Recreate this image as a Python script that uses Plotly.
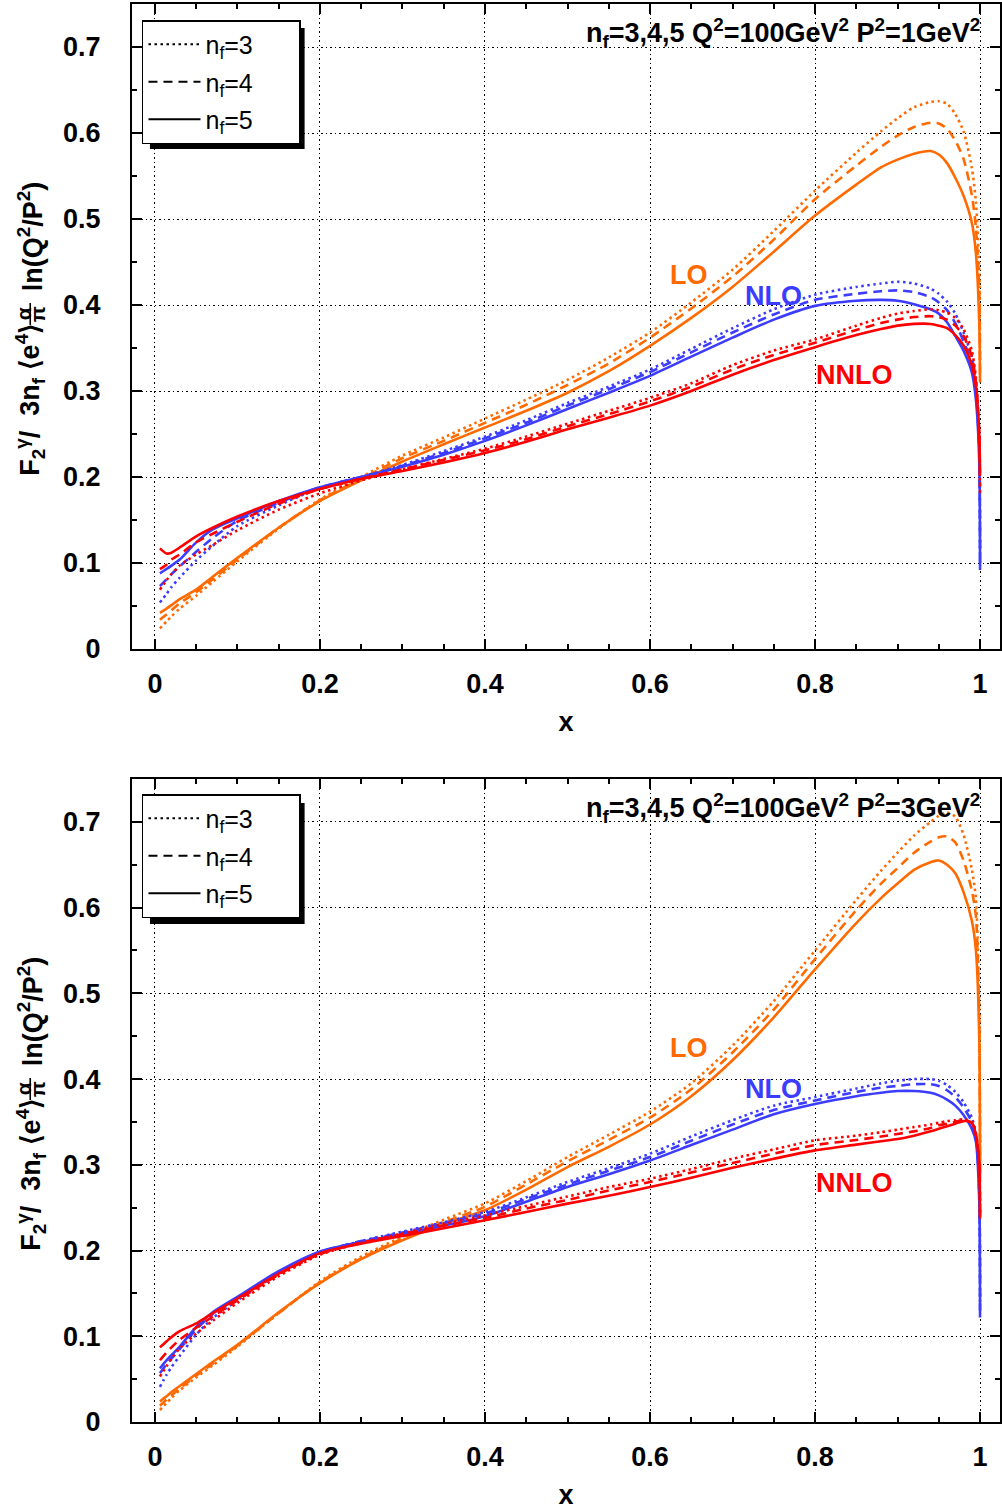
import plotly.graph_objects as go

# ---------------- data ----------------
X = [0.006, 0.014, 0.02, 0.03, 0.05, 0.07, 0.1, 0.15, 0.2, 0.25, 0.3, 0.35, 0.4,
     0.45, 0.5, 0.55, 0.6, 0.65, 0.7, 0.75, 0.8, 0.85, 0.88, 0.9, 0.92, 0.94,
     0.95, 0.96, 0.97, 0.98, 0.99, 0.995, 0.999, 1.0]

# P^2 = 1 GeV^2
p1_lo_nf3 = [.024, .032, .038, .047, .062, .078, .102, .140, .174, .200, .225, .246, .268, .290, .313, .339, .368,
             .403, .441, .486, .533, .577, .602, .617, .630, .636, .637, .634, .622, .602, .560, .520, .440, .330]
p1_lo_nf4 = [.034, .040, .045, .053, .066, .081, .104, .141, .173, .198, .222, .242, .263, .284, .307, .332, .362,
             .396, .433, .476, .523, .562, .584, .597, .607, .612, .611, .605, .591, .570, .528, .490, .420, .320]
p1_lo_nf5 = [.042, .047, .051, .058, .069, .084, .106, .141, .172, .196, .218, .238, .2575, .277, .298, .323, .3525,
             .385, .421, .462, .504, .540, .560, .569, .576, .579, .575, .565, .548, .527, .496, .460, .380, .310]
p1_nlo_nf3 = [.054, .064, .072, .083, .103, .120, .143, .167, .187, .200, .214, .230, .247, .266, .286, .305, .325,
              .349, .373, .395, .412, .421, .425, .427, .425, .419, .413, .404, .390, .368, .340, .310, .240, .110]
p1_nlo_nf4 = [.073, .081, .087, .096, .113, .129, .149, .170, .188, .200, .213, .228, .245, .263, .283, .302, .322,
              .345, .368, .389, .406, .413, .416, .417, .415, .409, .403, .394, .379, .358, .332, .300, .230, .100]
p1_nlo_nf5 = [.088, .093, .097, .104, .124, .139, .152, .172, .188, .200, .212, .226, .242, .260, .279, .298, .3176,
              .340, .362, .383, .399, .405, .406, .405, .401, .395, .390, .380, .364, .347, .322, .290, .220, .092]
p1_nnlo_nf3 = [.069, .080, .087, .097, .110, .121, .138, .162, .181, .196, .209, .221, .233, .247, .262, .277, .292,
               .309, .330, .347, .360, .376, .385, .390, .393, .395, .394, .391, .385, .372, .347, .315, .250, .180]
p1_nnlo_nf4 = [.093, .098, .104, .110, .124, .134, .148, .169, .186, .198, .209, .220, .231, .244, .259, .273, .288,
               .305, .325, .342, .356, .371, .379, .383, .386, .387, .386, .383, .376, .364, .340, .310, .250, .190]
p1_nnlo_nf5 = [.117, .111, .112, .118, .131, .141, .154, .172, .186, .198, .207, .217, .228, .241, .2555, .269, .283,
               .300, .319, .336, .351, .365, .372, .376, .378, .378, .376, .373, .365, .353, .330, .305, .250, .205]

# P^2 = 3 GeV^2
p3_lo_nf3 = [.014, .022, .028, .037, .052, .066, .088, .127, .164, .193, .216, .236, .255, .281, .309, .335, .362,
             .395, .439, .491, .550, .609, .643, .664, .684, .700, .707, .711, .706, .685, .645, .610, .480, .300]
p3_lo_nf4 = [.019, .026, .031, .039, .054, .068, .089, .127, .163, .191, .214, .233, .251, .277, .304, .329, .355,
             .388, .431, .481, .540, .597, .628, .646, .664, .677, .682, .683, .676, .655, .620, .590, .470, .290]
p3_lo_nf5 = [.024, .030, .035, .042, .056, .070, .090, .128, .162, .190, .212, .231, .247, .271, .2974, .321, .347,
             .380, .422, .472, .528, .582, .611, .628, .644, .653, .655, .650, .640, .618, .585, .550, .450, .280]
p3_nlo_nf3 = [.041, .055, .064, .077, .102, .121, .142, .173, .197, .211, .222, .233, .245, .262, .280, .296, .313,
              .333, .352, .369, .379, .389, .395, .398, .400, .400, .398, .393, .385, .373, .355, .337, .270, .140]
p3_nlo_nf4 = [.0568, .067, .074, .085, .108, .126, .145, .175, .198, .211, .221, .232, .243, .260, .277, .293, .309,
              .328, .347, .364, .375, .385, .390, .392, .394, .394, .392, .387, .379, .367, .350, .333, .270, .130]
p3_nlo_nf5 = [.0626, .072, .078, .088, .111, .128, .146, .176, .199, .210, .219, .229, .240, .257, .2742, .289, .305,
              .323, .341, .359, .371, .380, .384, .386, .386, .384, .381, .376, .369, .358, .342, .327, .260, .122]
p3_nnlo_nf3 = [.053, .065, .074, .086, .103, .118, .139, .170, .195, .209, .220, .231, .241, .252, .263, .274, .2838,
               .295, .307, .318, .3285, .334, .338, .341, .344, .347, .349, .351, .352, .353, .350, .336, .300, .240]
p3_nnlo_nf4 = [.072, .081, .087, .096, .110, .123, .142, .172, .196, .209, .219, .229, .238, .249, .259, .270, .280,
               .291, .302, .313, .323, .329, .333, .336, .339, .343, .346, .348, .350, .352, .349, .335, .300, .240]
p3_nnlo_nf5 = [.087, .094, .099, .106, .115, .127, .144, .173, .197, .208, .217, .226, .2353, .245, .2547, .264, .274,
               .285, .2965, .307, .3168, .3235, .3275, .330, .334, .339, .342, .345, .348, .351, .349, .335, .300, .237]

panels = [
    {"p2": "1", "series": {"LO": [p1_lo_nf3, p1_lo_nf4, p1_lo_nf5],
                           "NLO": [p1_nlo_nf3, p1_nlo_nf4, p1_nlo_nf5],
                           "NNLO": [p1_nnlo_nf3, p1_nnlo_nf4, p1_nnlo_nf5]},
     "labels": {"LO": (0.647, 0.435), "NLO": (0.750, 0.411), "NNLO": (0.848, 0.319)}},
    {"p2": "3", "series": {"LO": [p3_lo_nf3, p3_lo_nf4, p3_lo_nf5],
                           "NLO": [p3_nlo_nf3, p3_nlo_nf4, p3_nlo_nf5],
                           "NNLO": [p3_nnlo_nf3, p3_nnlo_nf4, p3_nnlo_nf5]},
     "labels": {"LO": (0.647, 0.436), "NLO": (0.750, 0.389), "NNLO": (0.848, 0.279)}},
]

NF = ["3", "4", "5"]
COLORS = {"LO": "#ff6a00", "NLO": "#3c3cff", "NNLO": "#ff0000"}
DASHES = ["2.5px,3.5px", "9px,6px", "solid"]

# ---------------- layout geometry (pixels) ----------------
W, H = 1002, 1510
ML, MR, MT, MB = 132, 0, 4, 88
PW, PH = W - ML - MR, H - MT - MB


def px_x(px):
    return (px - ML) / PW


def px_y(py):
    return 1 - (py - MT) / PH


PANEL_TOP = [4, 779]
PANEL_BOT = [649, 1422]

FONT = "Liberation Sans, Arial, Helvetica, sans-serif"
PAD = "\u00a0" * 6  # right-hand padding inside the legend box

fig = go.Figure()

annotations = []
shapes = []

for i, panel in enumerate(panels):
    xa = "x" if i == 0 else "x2"
    ya = "y" if i == 0 else "y2"
    legend_name = "legend" if i == 0 else "legend2"

    for order in ["LO", "NLO", "NNLO"]:
        for k, ys in enumerate(panel["series"][order]):
            fig.add_trace(go.Scatter(
                x=X, y=ys, mode="lines", xaxis=xa, yaxis=ya,
                line=dict(color=COLORS[order], width=2.6, dash=DASHES[k],
                          shape="spline", smoothing=0.7),
                showlegend=False, hoverinfo="skip"))

    # legend entries (line style per n_f)
    for k, nf in enumerate(NF):
        fig.add_trace(go.Scatter(
            x=[None], y=[None], mode="lines", xaxis=xa, yaxis=ya,
            line=dict(color="black", width=2.2, dash=DASHES[k]),
            name=f"n<sub>f</sub>={nf}{PAD}", legend=legend_name,
            legendgroup=f"{legend_name}_{nf}", showlegend=True))

    # curve labels
    for order, (lx, ly) in panel["labels"].items():
        annotations.append(dict(
            x=lx, y=ly, xref=xa, yref=ya, text=f"<b>{order}</b>", showarrow=False,
            font=dict(size=27, color=COLORS[order], family=FONT),
            xanchor="center", yanchor="middle"))

    top = PANEL_TOP[i]
    off = top - PANEL_TOP[0]

    # kinematics label
    annotations.append(dict(
        x=px_x(984), y=px_y(33 + off), xref="paper", yref="paper",
        text=f"<b>n<sub>f</sub>=3,4,5 Q<sup>2</sup>=100GeV<sup>2</sup> "
             f"P<sup>2</sup>={panel['p2']}GeV<sup>2</sup></b>",
        showarrow=False, font=dict(size=27, color="black", family=FONT),
        xanchor="right", yanchor="middle"))

    # y-axis title, built from rotated pieces around a small fraction
    annotations.append(dict(
        x=px_x(30), y=px_y(478 + off), xref="paper", yref="paper",
        text="<b>F<sub>2</sub><sup>γ</sup>/  3n<sub>f</sub> ⟨e<sup>4</sup>⟩</b>",
        textangle=-90, showarrow=False, font=dict(size=27, color="black", family=FONT),
        xanchor="center", yanchor="bottom"))
    annotations.append(dict(
        x=px_x(23), y=px_y(314 + off), xref="paper", yref="paper",
        text="<b>α</b>", textangle=-90, showarrow=False,
        font=dict(size=21, color="black", family=FONT),
        xanchor="center", yanchor="middle"))
    annotations.append(dict(
        x=px_x(37), y=px_y(314 + off), xref="paper", yref="paper",
        text="<b>π</b>", textangle=-90, showarrow=False,
        font=dict(size=21, color="black", family=FONT),
        xanchor="center", yanchor="middle"))
    shapes.append(dict(
        type="line", xref="paper", yref="paper",
        x0=px_x(30), x1=px_x(30), y0=px_y(303 + off), y1=px_y(325 + off),
        line=dict(color="black", width=1.6)))
    annotations.append(dict(
        x=px_x(30), y=px_y(179 + off), xref="paper", yref="paper",
        text="<b>ln(Q<sup>2</sup>/P<sup>2</sup>)</b>",
        textangle=-90, showarrow=False, font=dict(size=27, color="black", family=FONT),
        xanchor="center", yanchor="top"))

    # legend drop shadow
    shapes.append(dict(
        type="rect", xref="paper", yref="paper",
        x0=px_x(150), x1=px_x(305), y0=px_y(149 + off), y1=px_y(28 + off),
        fillcolor="black", line=dict(width=0), layer="above"))

axis_common = dict(
    showline=True, linecolor="black", linewidth=2, mirror="ticks",
    ticks="inside", ticklen=10, tickwidth=1.5, tickcolor="black",
    showgrid=True, gridcolor="black", gridwidth=1.3, griddash="1.5px,3px",
    zeroline=False,
    tickfont=dict(size=27, color="black", family=FONT, weight="bold"),
    minor=dict(ticks="inside", ticklen=5, tickwidth=1.5, tickcolor="black",
               dtick=0.05, showgrid=False),
)

xrange = [-23 / 827, (W - 155) / 827]
dom_top = [px_y(PANEL_BOT[0]), px_y(PANEL_TOP[0])]
dom_bot = [px_y(PANEL_BOT[1]), px_y(PANEL_TOP[1])]

xtitle = dict(text="<b>x</b>", font=dict(size=27, color="black", family=FONT), standoff=14)

legend_common = dict(xanchor="left", yanchor="top", bgcolor="white", bordercolor="black",
                     borderwidth=1.5, itemwidth=52, tracegroupgap=2,
                     font=dict(size=25, color="black", family=FONT))

fig.update_layout(
    width=W, height=H,
    margin=dict(l=ML, r=MR, t=MT, b=MB),
    paper_bgcolor="white", plot_bgcolor="white",
    font=dict(family=FONT, color="black"),
    xaxis=dict(domain=[0, 1], anchor="y", range=xrange, dtick=0.2, tick0=0,
               ticklabelstandoff=10, title=xtitle, **axis_common),
    yaxis=dict(domain=dom_top, anchor="x", range=[0, 0.75], dtick=0.1, tick0=0,
               ticklabelstandoff=24, **axis_common),
    xaxis2=dict(domain=[0, 1], anchor="y2", range=xrange, dtick=0.2, tick0=0,
                ticklabelstandoff=10, title=xtitle, **axis_common),
    yaxis2=dict(domain=dom_bot, anchor="x2", range=[0, 0.75], dtick=0.1, tick0=0,
                ticklabelstandoff=24, **axis_common),
    legend=dict(x=px_x(142), y=px_y(20), **legend_common),
    legend2=dict(x=px_x(142), y=px_y(794), **legend_common),
    annotations=annotations,
    shapes=shapes,
)

fig.write_html("out.html")
